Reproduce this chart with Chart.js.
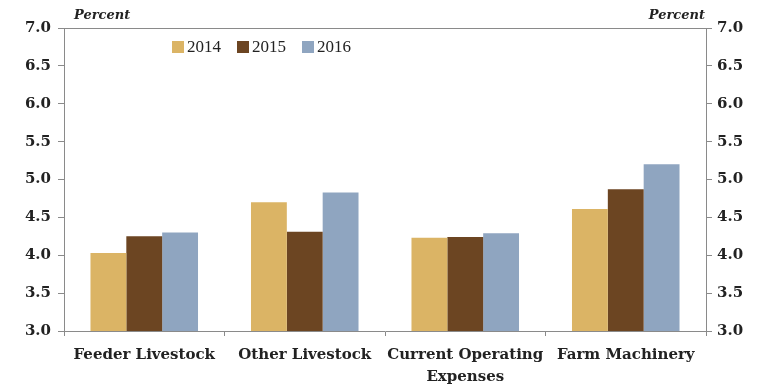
<!DOCTYPE html>
<html>
<head>
<meta charset="utf-8">
<script src="https://cdn.jsdelivr.net/npm/chart.js@4"></script>
<style>
  body { margin: 0; background: #fff; }
  #wrap { width: 767px; height: 388px; }
</style>
</head>
<body>
<div id="wrap"><canvas id="chart"></canvas></div>
<script>
// data
const categories = ['Feeder Livestock', 'Other Livestock', ['Current Operating', 'Expenses'], 'Farm Machinery']
const years = ['2014', '2015', '2016']
const rate2014 = [4.03, 4.70, 4.23, 4.61]
const rate2015 = [4.25, 4.31, 4.24, 4.87]
const rate2016 = [4.30, 4.83, 4.29, 5.20]
const yMin = 3.0
const yMax = 7.0

const colors = ['#dbb465', '#6c4522', '#8fa5c0']
const axisColor = '#8a8a8a'
const serif = '"DejaVu Serif", "Liberation Serif", serif'
const legendFont = '17px "Liberation Serif", serif'

// legend inside the plot + "Percent" labels + top border
const extras = {
  id: 'extras',
  afterDraw(chart) {
    const ctx = chart.ctx
    const a = chart.chartArea
    ctx.save()
    // top border of plot box
    ctx.strokeStyle = axisColor
    ctx.lineWidth = 1
    ctx.beginPath()
    ctx.moveTo(a.left, a.top + 0.5)
    ctx.lineTo(a.right, a.top + 0.5)
    ctx.stroke()

    // Percent labels
    ctx.fillStyle = '#222'
    ctx.font = 'italic bold 13px ' + serif
    ctx.textBaseline = 'alphabetic'
    ctx.textAlign = 'left'
    ctx.fillText('Percent', a.left + 10, a.top - 9)
    ctx.textAlign = 'right'
    ctx.fillText('Percent', a.right - 1, a.top - 9)

    // legend
    ctx.font = legendFont
    ctx.textAlign = 'left'
    ctx.textBaseline = 'middle'
    let x = a.left + 108
    const y = a.top + 19
    chart.data.datasets.forEach(ds => {
      ctx.fillStyle = ds.backgroundColor
      ctx.fillRect(x, y - 6, 12, 12)
      ctx.fillStyle = '#222'
      ctx.fillText(ds.label, x + 15, y + 1)
      x += 65
    })
    ctx.restore()
  }
}

const tickFont = { family: serif, size: 15, weight: 'bold', lineHeight: 1.45 }

new Chart(document.getElementById('chart'), {
  type: 'bar',
  data: {
    labels: categories,
    datasets: [
      { label: years[0], data: rate2014, backgroundColor: colors[0] },
      { label: years[1], data: rate2015, backgroundColor: colors[1] },
      { label: years[2], data: rate2016, backgroundColor: colors[2] }
    ]
  },
  options: {
    responsive: true,
    maintainAspectRatio: false,
    animation: false,
    datasets: { bar: { categoryPercentage: 0.67, barPercentage: 1.0 } },
    layout: { padding: { top: 28, left: 0, right: 0, bottom: 0 } },
    plugins: { legend: { display: false }, tooltip: { enabled: false } },
    scales: {
      x: {
        grid: { offset: true, drawOnChartArea: false, drawTicks: true, tickLength: 5, color: axisColor },
        border: { color: axisColor },
        ticks: { color: '#222', font: tickFont, padding: 8, maxRotation: 0, autoSkip: false },
        afterFit(s) { s.height = 57 }
      },
      y: {
        min: yMin, max: yMax,
        grid: { drawOnChartArea: false, tickLength: 6, color: axisColor },
        border: { color: axisColor },
        ticks: { stepSize: 0.5, color: '#222', font: tickFont, padding: 7, callback: v => v.toFixed(1) },
        afterFit(s) { s.width = 64 }
      },
      y2: {
        position: 'right',
        min: yMin, max: yMax,
        grid: { drawOnChartArea: false, tickLength: 6, color: axisColor },
        border: { color: axisColor },
        ticks: { stepSize: 0.5, color: '#222', font: tickFont, padding: 5, callback: v => v.toFixed(1) },
        afterFit(s) { s.width = 61 }
      }
    }
  },
  plugins: [extras]
})
</script>
</body>
</html>
